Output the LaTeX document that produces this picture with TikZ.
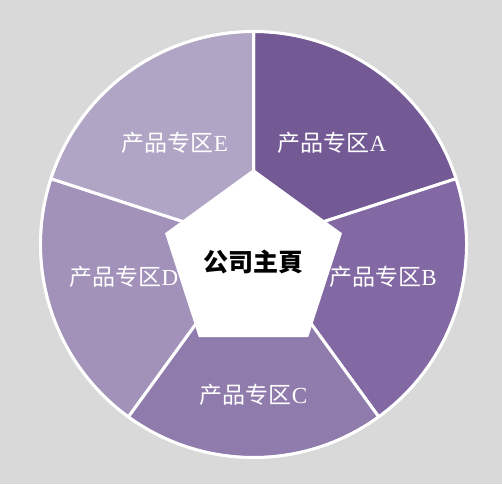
\documentclass[tikz,border=0pt]{standalone}
\usepackage{fontspec}
\usetikzlibrary{shapes.geometric}
\newfontfamily\cjk{Noto Sans CJK SC}
\newfontfamily\latn{Liberation Serif}
\definecolor{pageback}{RGB}{217,217,217}
\definecolor{zoneA}{RGB}{115,90,148}
\definecolor{zoneB}{RGB}{131,105,164}
\definecolor{zoneC}{RGB}{144,124,172}
\definecolor{zoneD}{RGB}{162,146,186}
\definecolor{zoneE}{RGB}{177,165,197}

\begin{document}
\begin{tikzpicture}[x=1pt, y=1pt,
            zone/.style ={draw=white, line width=3pt, line join=round},
            zonetext/.style ={text=white, inner sep=0, font=\cjk\fontsize{23}{23}\selectfont},
            home/.style ={regular polygon, regular polygon sides=5, minimum size=186pt,
            fill=white, inner sep=0, text=black, font=\cjk\bfseries\fontsize{25}{25}\selectfont}]

        \fill[pageback] (0,0) rectangle (502,484);
        \useasboundingbox (0,0) rectangle (502,484);

        %centro del circulo
        \coordinate (c) at (253.5,239.5);

        \path[zone, fill=zoneA] (c) -- ++(90:213) arc[start angle=90, end angle=18, radius=213] -- cycle;
        \path[zone, fill=zoneB] (c) -- ++(18:213) arc[start angle=18, end angle=-54, radius=213] -- cycle;
        \path[zone, fill=zoneC] (c) -- ++(-54:213) arc[start angle=-54, end angle=-126, radius=213] -- cycle;
        \path[zone, fill=zoneD] (c) -- ++(-126:213) arc[start angle=-126, end angle=-198, radius=213] -- cycle;
        \path[zone, fill=zoneE] (c) -- ++(162:213) arc[start angle=162, end angle=90, radius=213] -- cycle;
        \draw[white, line width=2.5pt] (c) circle[radius=213];

        \node[zonetext] (zA) at (332,341) {产品专区\latn A};
        \node[zonetext] (zB) at (383,207) {产品专区\latn B};
        \node[zonetext] (zC) at (253.5,89) {产品专区\latn C};
        \node[zonetext] (zD) at (124,207) {产品专区\latn D};
        \node[zonetext] (zE) at (175,341) {产品专区\latn E};

        \node[home] (home) at (253.5,222) {公司主頁};
\end{tikzpicture}
\end{document}
